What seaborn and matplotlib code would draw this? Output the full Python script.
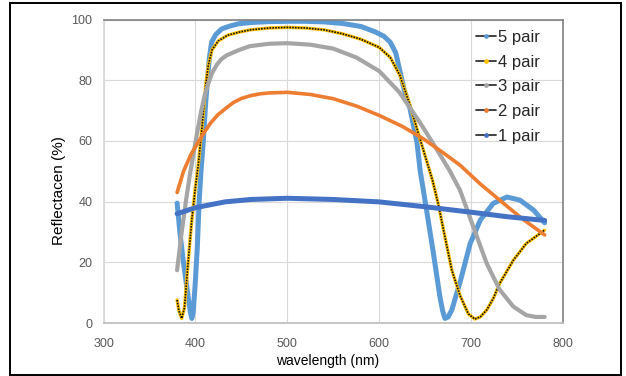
import matplotlib
matplotlib.use("Agg")
import matplotlib.pyplot as plt
import seaborn as sns
from matplotlib.lines import Line2D
from matplotlib.patches import Rectangle

# ---------------- data ----------------
labels = ["5 pair", "4 pair", "3 pair", "2 pair", "1 pair"]

wl5 = [380, 383, 387, 392, 394.5, 396, 397.5, 399.5, 402, 404, 406, 408.5, 411, 413, 415, 417.5,
       422, 428.5, 437, 447, 460, 480, 500, 520, 540, 560, 580, 595, 605, 612, 618, 622.5,
       627, 633.5, 641, 644.5, 651.5, 659, 666, 669, 671.5, 675, 679, 688, 699, 710, 724,
       739, 753, 768, 780]
r5 = [39.5, 30, 19.7, 8.7, 3.5, 1.5, 3.5, 12, 25, 40, 50, 60, 72, 80, 87, 92.5,
      95, 96.9, 97.8, 98.6, 99, 99.3, 99.4, 99.4, 99.2, 98.7, 97.7, 96, 94.5, 92.5, 89, 83,
      77, 70.6, 59.6, 50.3, 37.2, 22.9, 8.7, 4, 1.5, 2, 4.3, 13.5, 26.2, 33.9, 39.4,
      41.5, 40.5, 37.2, 33]

wl4 = [380, 382, 385, 388, 392, 396, 400, 403, 406, 409, 411, 414, 418, 425, 435, 447, 460,
       480, 500, 520, 540, 560, 580, 600, 612, 622.5, 633.5, 644, 651, 658, 664, 671.5, 679,
       688, 697, 704, 710, 717, 724, 731, 746, 760, 780]
r4 = [7.6, 4, 1.5, 5, 20, 34, 45, 52, 61, 71, 78, 85, 90, 93, 94.8, 95.8, 96.6,
      97.2, 97.4, 97.2, 96.6, 95.3, 93.5, 90.8, 87.5, 81.6, 71.7, 61, 54, 47, 39.5, 28.4, 17.4,
      9, 3, 1.3, 2, 4.3, 8, 13, 20.7, 26.2, 30.6]

wl3 = [380, 385, 390, 394, 398, 402, 406, 410, 414, 418, 423, 428, 434, 447, 459, 480, 500,
       525, 550, 575, 600, 622, 644, 662, 677, 688, 699, 717, 731, 746, 760, 770, 780]
r3 = [17.4, 30, 41, 49, 56, 63, 69.5, 75, 79, 82.3, 85, 86.9, 88.2, 89.9, 91.2, 92, 92.2,
      91.7, 90.4, 87.5, 83, 76, 66.2, 57.5, 50, 43.7, 34.5, 19.6, 11, 5.4, 2.6, 2, 2]

wl2 = [380, 387, 395, 403, 410, 416, 424, 432, 441, 450, 460, 470, 480, 500, 525, 550, 575,
       600, 625, 648, 670, 688, 710, 733, 755, 780]
r2 = [43, 50, 55.5, 59.6, 63, 65.7, 68.5, 70.5, 72.6, 74, 74.9, 75.5, 75.8, 76, 75.3, 73.9,
      71.5, 68.4, 64.8, 60.7, 56, 52, 45.8, 40, 34.5, 29]

wl1 = [380, 400, 432, 460, 500, 550, 600, 650, 700, 740, 780]
r1 = [36, 38, 39.9, 40.7, 41.1, 40.7, 39.9, 38.3, 36.5, 35, 33.8]

x_ticks = [300, 400, 500, 600, 700, 800]
y_ticks = [0, 20, 40, 60, 80, 100]

colors = ["#5B9BD5", "#FFC000", "#A5A5A5", "#ED7D31", "#4472C4"]

# ---------------- figure ----------------
sns.set_theme(style="white")
plt.rcParams["font.family"] = ["Liberation Sans", "DejaVu Sans"]

fig = plt.figure(figsize=(6.26, 3.76), dpi=100)
ax = fig.add_axes([103.6 / 626, 53 / 376, 459.4 / 626, 303.5 / 376])

series = [(wl5, r5, colors[0], 3.6), (wl4, r4, colors[1], 2.4), (wl3, r3, colors[2], 3.0),
          (wl2, r2, colors[3], 2.6), (wl1, r1, colors[4], 3.6)]
for i, (wl, r, c, lw) in enumerate(series):
    sns.lineplot(x=wl, y=r, ax=ax, color=c, linewidth=lw, sort=False,
                 estimator=None, legend=False, zorder=3 + i)
    if i == 1:
        sns.lineplot(x=wl, y=r, ax=ax, color="#111111", linewidth=1.2, sort=False,
                     estimator=None, legend=False, zorder=3.5 + i,
                     linestyle=(0, (1, 0.7)))

ax.set_xlim(300, 800)
ax.set_ylim(0, 100)
ax.set_xticks(x_ticks)
ax.set_yticks(y_ticks)
ax.grid(True, color="#D9D9D9", linewidth=0.8)
ax.set_axisbelow(True)
ax.tick_params(axis="both", length=0, colors="#595959", labelsize=9)
ax.tick_params(axis="x", pad=11)
ax.tick_params(axis="y", pad=8)

for s in ["top", "right"]:
    ax.spines[s].set_color("#808080")
    ax.spines[s].set_linewidth(1.2)
ax.spines["bottom"].set_color("#BFBFBF")
ax.spines["left"].set_color("#D9D9D9")
for s in ax.spines.values():
    s.set_zorder(10)

ax.set_xlabel("wavelength (nm)", fontsize=10, color="black")
ax.set_ylabel("Reflectacen (%)", fontsize=11, color="black")
ax.xaxis.set_label_coords(0.487, -0.102)
ax.yaxis.set_label_coords(-0.082, 0.4366)

handles = [Line2D([], [], color="#333333", linewidth=1.3, marker="o", markersize=2.4,
                  markerfacecolor=c, markeredgecolor=c) for c in colors]
ax.legend(handles, labels, loc="upper left", bbox_to_anchor=(476 / 626, 1 - 30 / 376),
          bbox_transform=fig.transFigure, frameon=False, fontsize=12, borderpad=0,
          handlelength=1.2, handletextpad=0.1, labelspacing=0.58, borderaxespad=0)

fig.patches.append(Rectangle((10 / 626, 1.5 / 376), 611 / 626, 372 / 376,
                             transform=fig.transFigure, fill=False, edgecolor="black",
                             linewidth=1.4))

fig.savefig("out.png", dpi=100, facecolor="white")
